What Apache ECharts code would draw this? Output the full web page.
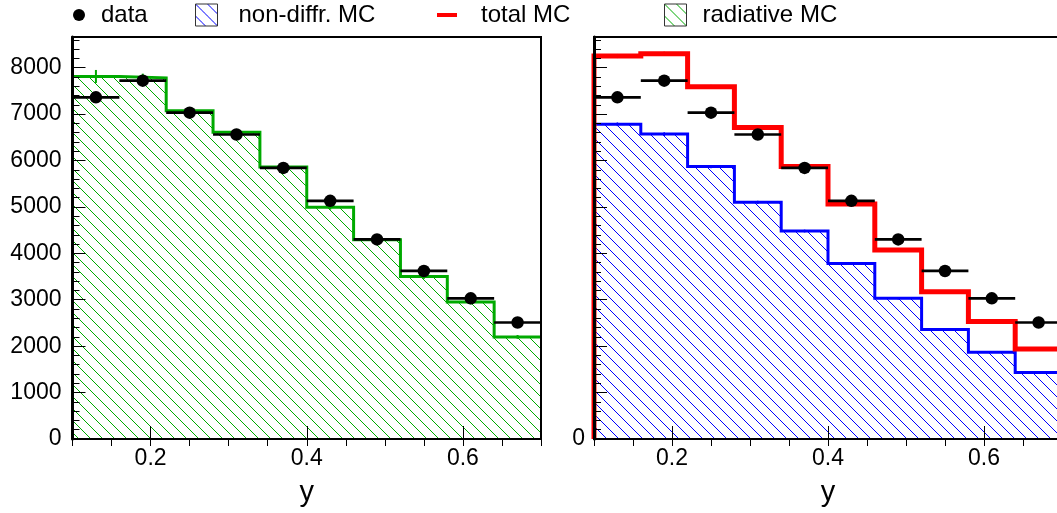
<!DOCTYPE html>
<html>
<head>
<meta charset="utf-8">
<script src="https://cdn.jsdelivr.net/npm/echarts@6/dist/echarts.min.js"></script>
<style>
  html, body { margin: 0; padding: 0; background: #fff; }
  #chart { width: 1057px; height: 513px; }
</style>
</head>
<body>
<div id="chart"></div>
<script>
// Bin edges in y (10 bins of width 0.06)
const binEdges = [0.10, 0.16, 0.22, 0.28, 0.34, 0.40, 0.46, 0.52, 0.58, 0.64, 0.70];

// Measured events per bin and their statistical errors
const dataValues = [7360, 7720, 7030, 6560, 5840, 5130, 4300, 3620, 3030, 2510];
const dataErrors = [90, 90, 85, 80, 75, 70, 65, 60, 55, 50];

// Radiative MC (left panel)
const radiativeMC  = [7810, 7780, 7070, 6610, 5860, 4990, 4290, 3500, 2950, 2200];
const radiativeErr = [140, 90, 70, 70, 60, 50, 50, 50, 50, 40];

// Non-diffractive MC and total MC (right panel)
const nonDiffrMC  = [6780, 6570, 5870, 5100, 4480, 3780, 3030, 2360, 1870, 1430];
const nonDiffrErr = [40, 40, 35, 35, 30, 30, 25, 25, 20, 20];
const totalMC     = [8250, 8300, 7590, 6710, 5870, 5060, 4070, 3170, 2530, 1940];
const totalErr    = [45, 45, 40, 40, 35, 35, 30, 30, 25, 25];

// Axis ticks
const xMajorTicks = [0.2, 0.4, 0.6];
const yMax = 8660;

const FONT = "'Liberation Sans', Arial, Helvetica, sans-serif";
const GREEN = '#00aa00', BLUE = '#0000ff', RED = '#ff0000';

// Diagonal "\" hatch tile used as a repeating fill
function hatchPattern(color, step) {
  const c = document.createElement('canvas');
  c.width = step; c.height = step;
  const g = c.getContext('2d');
  g.strokeStyle = color;
  g.lineWidth = 1;
  g.beginPath();
  for (let k = -1; k <= 1; k++) {
    g.moveTo(k * step - 1, -1);
    g.lineTo(k * step + step + 1, step + 1);
  }
  g.stroke();
  return { image: c, repeat: 'repeat' };
}
const greenHatch = hatchPattern(GREEN, 12);
const blueHatch = hatchPattern(BLUE, 12);

// Histogram outline as step points, rising from zero at the left edge
function stepPoints(values) {
  const pts = [[binEdges[0], 0]];
  values.forEach((v, i) => pts.push([binEdges[i], v]));
  pts.push([binEdges[binEdges.length - 1], values[values.length - 1]]);
  return pts;
}

function histSeries(name, panel, values, color, width, fill, z) {
  return {
    type: 'line', name, xAxisIndex: panel * 2, yAxisIndex: panel * 2,
    data: stepPoints(values), step: 'end', showSymbol: false, symbol: 'none',
    lineStyle: { color, width, join: 'miter', cap: 'butt' },
    itemStyle: { color },
    areaStyle: fill ? { color: fill, opacity: 1 } : undefined,
    z, silent: true
  };
}

// Vertical error bars (and optional horizontal bin-width bars) per bin
function errorBars(name, panel, values, errors, color, width, withHoriz, z) {
  const rows = values.map((v, i) => [
    (binEdges[i] + binEdges[i + 1]) / 2, v, errors[i], binEdges[i], binEdges[i + 1]
  ]);
  return {
    type: 'custom', name, xAxisIndex: panel * 2, yAxisIndex: panel * 2,
    data: rows, z, silent: true,
    renderItem(params, api) {
      const xc = api.value(0), v = api.value(1), e = api.value(2);
      const lo = api.coord([xc, v - e]), hi = api.coord([xc, v + e]);
      const children = [{
        type: 'line',
        shape: { x1: lo[0], y1: lo[1], x2: hi[0], y2: hi[1] },
        style: { stroke: color, lineWidth: width }
      }];
      if (withHoriz) {
        const a = api.coord([api.value(3), v]), b = api.coord([api.value(4), v]);
        children.push({
          type: 'line',
          shape: { x1: a[0], y1: a[1], x2: b[0], y2: b[1] },
          style: { stroke: color, lineWidth: width }
        });
      }
      return { type: 'group', children };
    }
  };
}

function dataMarkers(panel) {
  return {
    type: 'scatter', name: 'data', xAxisIndex: panel * 2, yAxisIndex: panel * 2,
    data: dataValues.map((v, i) => [(binEdges[i] + binEdges[i + 1]) / 2, v]),
    symbol: 'circle', symbolSize: 12.5, itemStyle: { color: '#000', opacity: 1 }, z: 4, silent: true
  };
}

function xAxes(gridIndex) {
  return [
    { // major ticks, labels and title
      type: 'value', gridIndex, min: 0.1, max: 0.7, z: 6,
      axisLine: { show: true, onZero: false, lineStyle: { color: '#000', width: 2 } },
      axisTick: { show: true, inside: true, length: 13, customValues: xMajorTicks, lineStyle: { color: '#000', width: 1 } },
      axisLabel: { show: true, customValues: xMajorTicks, margin: 8, color: '#000', fontSize: 23, fontFamily: FONT,
                   formatter: v => v.toFixed(1) },
      splitLine: { show: false },
      name: 'y', nameLocation: 'middle', nameGap: 39,
      nameTextStyle: { color: '#000', fontSize: 29, fontFamily: FONT }
    },
    { // minor ticks
      type: 'value', gridIndex, min: 0.1, max: 0.7, interval: 0.05, z: 6,
      axisLine: { show: false }, axisLabel: { show: false }, splitLine: { show: false },
      axisTick: { show: true, inside: true, length: 7, lineStyle: { color: '#000', width: 1 } }
    }
  ];
}

function yAxes(gridIndex, labelFn, margin) {
  return [
    {
      type: 'value', gridIndex, min: 0, max: yMax, interval: 1000, position: 'left', z: 6,
      axisLine: { show: true, onZero: false, lineStyle: { color: '#000', width: 3 } },
      axisTick: { show: true, inside: true, length: 13, lineStyle: { color: '#000', width: 1 } },
      axisLabel: { show: true, showMaxLabel: false, margin, color: '#000', fontSize: 23, fontFamily: FONT,
                   formatter: labelFn },
      splitLine: { show: false }
    },
    {
      type: 'value', gridIndex, min: 0, max: yMax, interval: 200, position: 'left', offset: 0, z: 6,
      axisLine: { show: false }, axisLabel: { show: false }, splitLine: { show: false },
      axisTick: { show: true, inside: true, length: 7, lineStyle: { color: '#000', width: 1 } }
    }
  ];
}

function legendItem(left, name, icon, w, h, itemStyle, pad) {
  return {
    left, top: 3, padding: 0, itemWidth: w, itemHeight: h, selectedMode: false,
    data: [{ name, icon, itemStyle }],
    textStyle: { color: '#000', fontSize: 24, fontFamily: FONT, padding: [0, 0, 0, pad] }
  };
}

const chart = echarts.init(document.getElementById('chart'), null, { renderer: 'canvas' });

chart.setOption({
  animation: false,
  backgroundColor: '#fff',
  legend: [
    legendItem(73, 'data', 'circle', 12, 12, { color: '#000', opacity: 1, borderWidth: 0 }, 11),
    legendItem(195, 'non-diffr. MC', 'rect', 22, 22, { color: blueHatch, borderColor: '#333', borderWidth: 1 }, 16),
    legendItem(437, 'total MC', 'rect', 20, 4, { color: RED, borderWidth: 0 }, 19),
    legendItem(664, 'radiative MC', 'rect', 22, 22, { color: greenHatch, borderColor: '#333', borderWidth: 1 }, 11)
  ],
  grid: [
    { left: 72.5, top: 37, width: 468.5, height: 402, show: true, borderColor: '#000', borderWidth: 2,
      backgroundColor: 'transparent', z: 5, outerBoundsMode: 'none', containLabel: false },
    { left: 594, top: 37, width: 468, height: 402, show: true, borderColor: '#000', borderWidth: 2,
      backgroundColor: 'transparent', z: 5, outerBoundsMode: 'none', containLabel: false }
  ],
  xAxis: [...xAxes(0), ...xAxes(1)],
  yAxis: [
    ...yAxes(0, v => String(v), 11),
    ...yAxes(1, v => (v === 0 ? '0' : ''), 9)
  ],
  series: [
    // left panel: radiative MC vs data
    histSeries('radiative MC', 0, radiativeMC, GREEN, 3, greenHatch, 2),
    errorBars('radiative MC errors', 0, radiativeMC, radiativeErr, GREEN, 2, false, 2),
    errorBars('data errors', 0, dataValues, dataErrors, '#000', 2.7, true, 3),
    dataMarkers(0),
    // right panel: non-diffractive and total MC vs data
    histSeries('non-diffr. MC', 1, nonDiffrMC, BLUE, 3, blueHatch, 2),
    errorBars('non-diffr. MC errors', 1, nonDiffrMC, nonDiffrErr, BLUE, 1.5, false, 2),
    histSeries('total MC', 1, totalMC, RED, 5, null, 2),
    errorBars('total MC errors', 1, totalMC, totalErr, '#ff6666', 1.5, false, 2),
    errorBars('data errors', 1, dataValues, dataErrors, '#000', 2.7, true, 3),
    dataMarkers(1)
  ]
});
</script>
</body>
</html>
